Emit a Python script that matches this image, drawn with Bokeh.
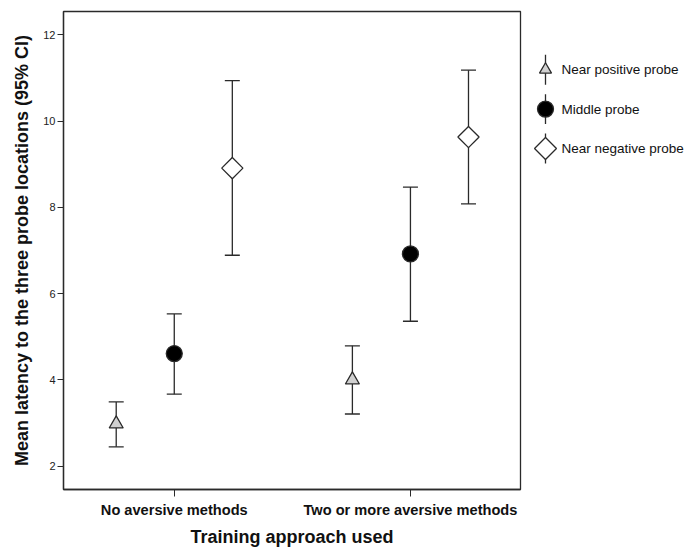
from bokeh.plotting import figure
from bokeh.layouts import row
from bokeh.models import (ColumnDataSource, Range1d, FixedTicker, Whisker, TeeHead)
from bokeh.core.properties import value
from bokeh.transform import dodge
from bokeh.embed import file_html
from bokeh.resources import INLINE

# ---- data ----
categories = ["No aversive methods", "Two or more aversive methods"]
series_names = ["Near positive probe", "Middle probe", "Near negative probe"]

pos_mean = [2.98, 4.00]
pos_lo = [2.45, 3.21]
pos_hi = [3.49, 4.79]

mid_mean = [4.61, 6.92]
mid_lo = [3.67, 5.36]
mid_hi = [5.53, 8.47]

neg_mean = [8.91, 9.63]
neg_lo = [6.89, 8.08]
neg_hi = [10.94, 11.18]

y_ticks = [2, 4, 6, 8, 10, 12]

# ---- styling / layout constants ----
FONT = "Liberation Sans"
LINE = "#2a2a2a"
H = 549
MAIN_W = 522
LEG_W = 688 - MAIN_W
TOP, BOTTOM = 11, 59

x_pos = list(range(1, len(categories) + 1))

p = figure(width=MAIN_W, height=H, output_backend="svg", toolbar_location=None,
           x_range=Range1d(0.531, 2.466), y_range=Range1d(1.46, 12.54),
           min_border_left=63, min_border_right=2, min_border_top=TOP,
           min_border_bottom=BOTTOM)
p.xgrid.visible = False
p.ygrid.visible = False
p.outline_line_color = LINE
p.outline_line_width = 1.3
p.background_fill_color = "white"
p.border_fill_color = "white"

ya = p.yaxis[0]
ya.ticker = FixedTicker(ticks=y_ticks)
ya.minor_tick_line_color = None
ya.major_tick_out = 6
ya.major_tick_in = 0
ya.major_tick_line_color = LINE
ya.axis_line_color = LINE
ya.axis_line_width = 1.3
ya.major_label_text_font = FONT
ya.major_label_text_font_size = "11px"
ya.major_label_text_color = "#222222"
ya.major_label_standoff = 2
ya.axis_label = "Mean latency to the three probe locations (95% CI)"
ya.axis_label_text_font = FONT
ya.axis_label_text_font_style = "bold"
ya.axis_label_text_font_size = "18px"
ya.axis_label_text_color = "#111111"
ya.axis_label_standoff = 8

xa = p.xaxis[0]
xa.ticker = FixedTicker(ticks=x_pos)
xa.major_label_overrides = {x: c for x, c in zip(x_pos, categories)}
xa.minor_tick_line_color = None
xa.major_tick_out = 7
xa.major_tick_in = 0
xa.major_tick_line_color = LINE
xa.axis_line_color = LINE
xa.axis_line_width = 1.3
xa.major_label_text_font = FONT
xa.major_label_text_font_style = "bold"
xa.major_label_text_font_size = "14.6px"
xa.major_label_text_color = "#111111"
xa.major_label_standoff = 5
xa.axis_label = "Training approach used"
xa.axis_label_text_font = FONT
xa.axis_label_text_font_style = "bold"
xa.axis_label_text_font_size = "18px"
xa.axis_label_text_color = "#111111"
xa.axis_label_standoff = 6

OFF = 0.2458
specs = [
    (pos_mean, pos_lo, pos_hi, -OFF, "triangle", 14, "#d0d0d0", 0.0, 12),
    (mid_mean, mid_lo, mid_hi, 0.0, "circle", 16, "black", 0.0, 16),
    (neg_mean, neg_lo, neg_hi, OFF, "square", 15, "white", 0.785398, 15.5),
]

for mean, lo, hi, off, marker, size, fill, ang, _ in specs:
    src = ColumnDataSource(dict(x=x_pos, mean=mean, lo=lo, hi=hi))
    xt = dodge("x", off, range=p.x_range)
    w = Whisker(base=xt, upper="hi", lower="lo", source=src,
                line_color=LINE, line_width=1.3,
                upper_head=TeeHead(size=15, line_color=LINE, line_width=1.3),
                lower_head=TeeHead(size=15, line_color=LINE, line_width=1.3))
    p.add_layout(w)
    p.scatter(x=xt, y="mean", source=src, marker=marker, size=size,
              angle=ang, fill_color=fill, line_color=LINE, line_width=1.3)

# ---- legend panel (pixel coordinates, frame aligned with the main frame) ----
lg = figure(width=LEG_W, height=H, output_backend="svg", toolbar_location=None,
            x_range=Range1d(0, LEG_W), y_range=Range1d(H - BOTTOM, TOP),
            x_axis_location=None, y_axis_location=None,
            min_border_left=0, min_border_right=0, min_border_top=TOP,
            min_border_bottom=BOTTOM, outline_line_color=None)
lg.grid.visible = False
lg.background_fill_color = "white"
lg.border_fill_color = "white"

LEG_X, LEG_Y0, LEG_DY, LEG_HALF, LABEL_X = 23, 69.3, 39.5, 15, 39
n = len(series_names)
ys = [LEG_Y0 + i * LEG_DY for i in range(n)]
lg.segment(x0=[LEG_X] * n, x1=[LEG_X] * n, y0=[y - LEG_HALF for y in ys],
           y1=[y + LEG_HALF for y in ys], line_color=LINE, line_width=1.3)
for (mean, lo, hi, off, marker, size, fill, ang, lsize), y in zip(specs, ys):
    lg.scatter(x=[LEG_X], y=[y], marker=marker, size=lsize, angle=ang,
               fill_color=fill, line_color=LINE, line_width=1.3)
lg.text(x=[LABEL_X] * n, y=ys, text=series_names, text_font=value(FONT),
        text_font_size="13.5px", text_color="#111111", text_baseline="middle",
        text_align="left")

open("out.html", "w").write(file_html(row(p, lg), INLINE))
